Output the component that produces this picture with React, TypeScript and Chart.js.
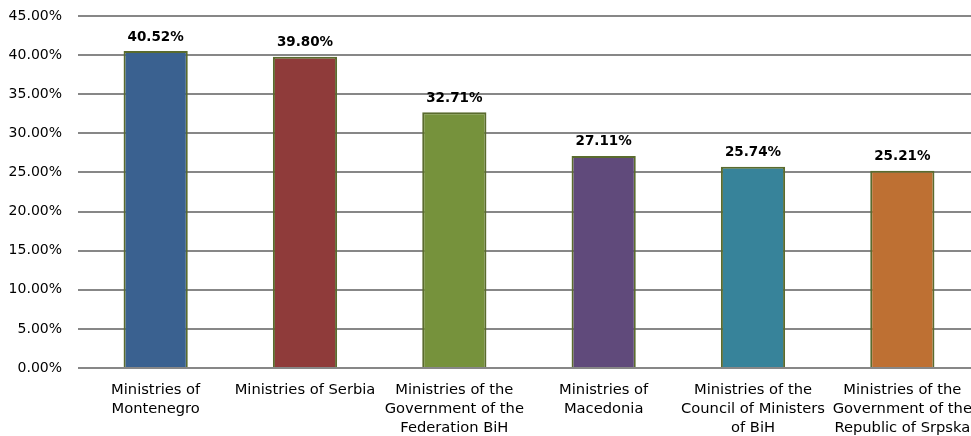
import React, { useEffect, useRef } from "react";
import { Chart, registerables } from "chart.js";

Chart.register(...registerables);

const categories: string[][] = [
  ["Ministries of", "Montenegro"],
  ["Ministries of Serbia"],
  ["Ministries of the", "Government of the", "Federation BiH"],
  ["Ministries of", "Macedonia"],
  ["Ministries of the", "Council of Ministers", "of BiH"],
  ["Ministries of the", "Government of the", "Republic of Srpska"],
];
const values: number[] = [40.52, 39.8, 32.71, 27.11, 25.74, 25.21];
const barColors: string[] = ["#3A6190", "#8F3B3A", "#76923C", "#604A7B", "#37839A", "#BE7033"];
const yMax = 45;
const yStep = 5;

const FONT = "'DejaVu Sans', sans-serif";

const labelPlugin = {
  id: "valueLabels",
  afterDatasetsDraw(chart: any) {
    const ctx = chart.ctx;
    const meta = chart.getDatasetMeta(0);
    ctx.save();
    ctx.font = `bold 13.5px ${FONT}`;
    ctx.fillStyle = "#000";
    ctx.textAlign = "center";
    ctx.textBaseline = "middle";
    meta.data.forEach((bar: any, i: number) => {
      ctx.fillText(values[i].toFixed(2) + "%", bar.x, bar.y - 14);
    });
    ctx.restore();
  },
};

export default function App() {
  const ref = useRef<HTMLCanvasElement>(null);
  useEffect(() => {
    document.body.style.margin = "0";
    const chart = new Chart(ref.current!, {
      type: "bar",
      data: {
        labels: categories,
        datasets: [
          {
            data: values,
            backgroundColor: barColors,
            borderColor: "#5A6B2E",
            borderWidth: 2,
            categoryPercentage: 1,
            barPercentage: 0.43,
          },
        ],
      },
      options: {
        animation: false,
        responsive: false,
        layout: { padding: { top: 16, right: 0, left: 0, bottom: 0 } },
        plugins: { legend: { display: false }, tooltip: { enabled: false } },
        scales: {
          x: {
            grid: { display: false, drawTicks: false },
            border: { display: false },
            ticks: {
              color: "#000",
              font: { family: FONT, size: 14.7, lineHeight: 1.29 },
              padding: 13,
              maxRotation: 0,
              autoSkip: false,
            },
            afterFit: (s: any) => {
              s.height = 68;
              s.paddingLeft = 0;
              s.paddingRight = 0;
              s.paddingTop = 0;
              s.paddingBottom = 0;
            },
          },
          y: {
            min: 0,
            max: yMax,
            grid: { color: "#878787", lineWidth: 2, tickLength: 3, drawTicks: true },
            border: { display: false },
            ticks: {
              stepSize: yStep,
              color: "#000",
              font: { family: FONT, size: 14 },
              padding: 16,
              callback: (v: any) => Number(v).toFixed(2) + "%",
            },
            afterFit: (s: any) => {
              s.width = 81;
              s.paddingTop = 0;
              s.paddingBottom = 0;
            },
          },
        },
      },
      plugins: [labelPlugin],
    });
    return () => chart.destroy();
  }, []);
  return (
    <div style={{ position: "fixed", left: 0, top: 0, width: 971, height: 436, overflow: "hidden", background: "#fff" }}>
      <canvas ref={ref} width={977} height={436} style={{ display: "block" }} />
    </div>
  );
}
